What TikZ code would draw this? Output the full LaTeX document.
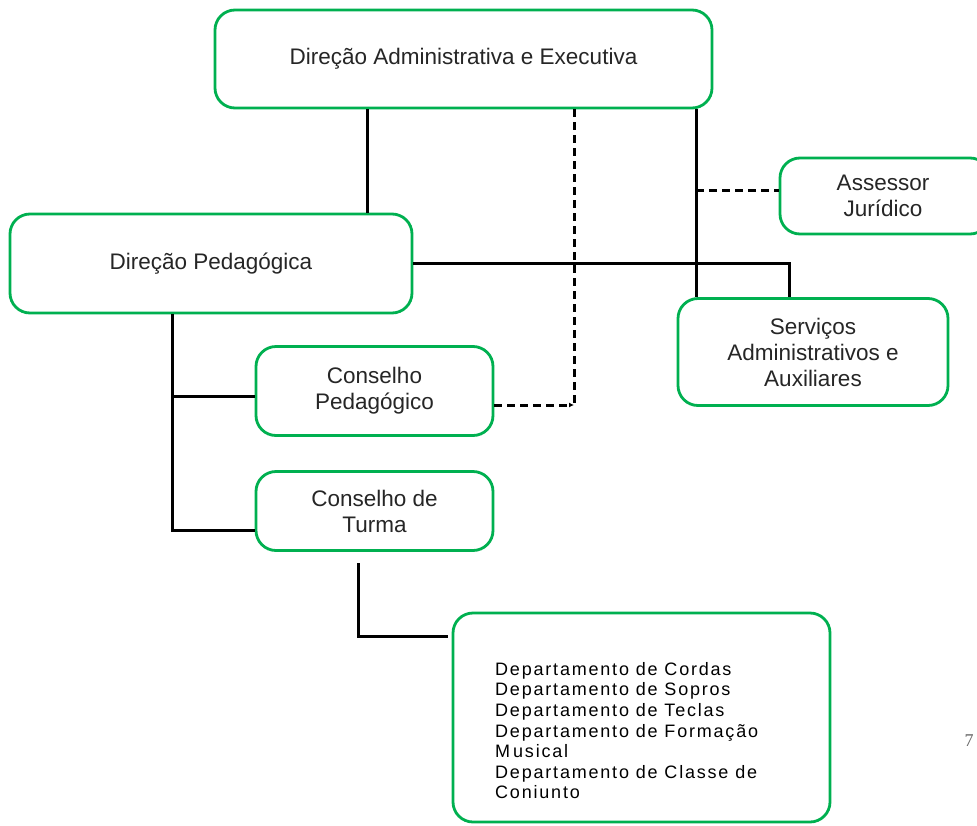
\documentclass[tikz,border=0pt]{standalone}
\usepackage{fontspec}
\setmainfont{Liberation Sans}
\newfontfamily\deptfont[LetterSpace=10]{Liberation Sans}
\newfontfamily\pagefont{Liberation Serif}
\usetikzlibrary{arrows.meta}
\definecolor{boxgreen}{RGB}{0,176,80}
\tikzset{
  orgbox/.style={draw=boxgreen, line width=2.8pt, rounded corners=20pt, fill=white,
    align=center, font=\fontsize{22.5}{26}\selectfont, inner sep=0pt, text=black!85},
  conn/.style={line width=3pt, black},
  dashconn/.style={line width=3pt, black, dash pattern=on 8pt off 5pt},
}
\begin{document}
\begin{tikzpicture}[x=1pt,y=-1pt]
\useasboundingbox (0,0) rectangle (977,825);
\clip (0,0) rectangle (977,825);
\fill[white] (0,0) rectangle (977,825);
% boxes
\node[orgbox, minimum width=497pt, minimum height=98pt] (dae) at (463.5,59) {\raisebox{-3pt}{Direção Administrativa e Executiva}};
\node[orgbox, minimum width=402pt, minimum height=99pt] (dp) at (211,263.5) {\raisebox{-3pt}{Direção Pedagógica}};
\node[orgbox, minimum width=210pt, minimum height=76pt] (aj) at (885,196) {\hspace*{-4pt}Assessor\\\hspace*{-4pt}Jurídico};
\node[orgbox, minimum width=270pt, minimum height=107pt] (sa) at (813,352) {Serviços\\Administrativos e\\Auxiliares};
\node[orgbox, minimum width=237pt, minimum height=89pt] (cp) at (374.5,391) {Conselho\\Pedagógico};
\node[orgbox, minimum width=237pt, minimum height=79pt] (ct) at (374.5,511) {Conselho de\\Turma};
\node[orgbox, minimum width=377pt, minimum height=209pt] (dep) at (641.5,717.5) {};
\node[anchor=north west, align=left, inner sep=0pt, font=\deptfont\fontsize{18}{20.6}\selectfont, text=black] (deptxt) at (495,662)
  {Departamento de Cordas\\Departamento de Sopros\\Departamento de Teclas\\Departamento de Formação\\M\hspace{3pt}usical\\Departamento de Classe de\\Coniunto};
\node[font=\pagefont\fontsize{18}{20}\selectfont, text=black!60, inner sep=0pt] (pg) at (969,741) {7};
% helper coordinates
\coordinate (a) at (367,0);
\coordinate (d) at (574,405);
\coordinate (s) at (696,0);
\coordinate (j) at (696,190);
\coordinate (h) at (789,263.5);
\coordinate (v) at (172,530);
\coordinate (c) at (172,396);
\coordinate (l1) at (358,563);
\coordinate (l2) at (358,636);
\coordinate (l3) at (448,636);
% connectors
\draw[conn] (dae.south -| a) -- (dp.north -| a);
\draw[conn] (dae.south -| s) -- (sa.north -| s);
\draw[dashconn] (dae.south -| d) -- (d);
\draw[dashconn, -{Latex[length=5pt,width=5pt]}] (cp.east |- d) -- (d);
\draw[dashconn] (j) -- (aj.west |- j);
\draw[conn] (dp.east |- h) -- (h) -- (sa.north -| h);
\draw[conn] (dp.south -| v) -- (v) -- (ct.west |- v);
\draw[conn] (c) -- (cp.west |- c);
\draw[conn] (l1) -- (l2) -- (l3);
\end{tikzpicture}
\end{document}
